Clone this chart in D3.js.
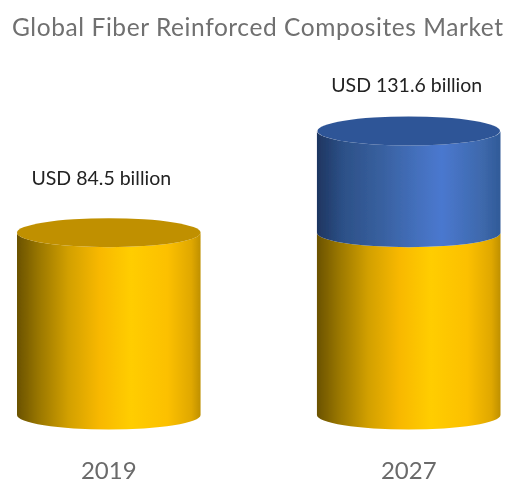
<!DOCTYPE html>
<html><head><meta charset="utf-8">
<script src="https://cdn.jsdelivr.net/npm/d3@7"></script>
<style>html,body{margin:0;padding:0;background:#fff;overflow:hidden}svg{display:block}text{font-family:Lato,"Open Sans",sans-serif}</style>
</head><body><svg id="c" width="506" height="484"></svg>
<script>
const title = "Global Fiber Reinforced Composites Market";
const years = ["2019", "2027"];
const baseValues = [84.5, 84.5];
const growthValues = [0, 47.1];
const valueLabels = ["USD 84.5 billion", "USD 131.6 billion"];
const yellowStops = [[0,"#6a5200"],[0.12,"#9a7700"],[0.28,"#d2a000"],[0.45,"#f8b800"],[0.62,"#ffcd05"],[0.82,"#fcc000"],[0.95,"#e0a800"],[1,"#bf9000"]];
const blueStops = [[0,"#1e3560"],[0.14,"#2c5087"],[0.35,"#38609f"],[0.55,"#4470bd"],[0.68,"#4a78cf"],[0.9,"#3e69ac"],[1,"#305a98"]];

const svg = d3.select("#c");
const defs = svg.append("defs");
defs.append("filter").attr("id","soft").append("feGaussianBlur").attr("stdDeviation",0.5);
function grad(id, stops){
  defs.append("linearGradient").attr("id",id).selectAll("stop").data(stops).join("stop")
    .attr("offset",d=>d[0]).attr("stop-color",d=>d[1]);
}
grad("yel",yellowStops); grad("blu",blueStops);

const x = d3.scaleBand().domain(years).range([17,500.5]).paddingInner(0.388);
const y = d3.scaleLinear().domain([0,131.6]).range([415,131]);
const ry = 14.5;

const data = years.map((yr,i)=>({yr, base:baseValues[i], growth:growthValues[i], label:valueLabels[i]}));
const g = svg.append("g").attr("filter","url(#soft)");

function body(x0,w,yTop,yBot){
  const a = w/2;
  return `M${x0},${yTop}A${a},${ry} 0 0 0 ${x0+w},${yTop}L${x0+w},${yBot}A${a},${ry} 0 0 1 ${x0},${yBot}Z`;
}
data.forEach(d=>{
  const x0=x(d.yr), w=x.bandwidth(), a=w/2, cx=x0+a;
  const top=d.base+d.growth;
  g.append("path").attr("d",body(x0,w,y(d.base),y(0))).attr("fill","url(#yel)");
  if(d.growth>0){
    g.append("path").attr("d",body(x0,w,y(top),y(d.base))).attr("fill","url(#blu)");
    g.append("ellipse").attr("cx",cx).attr("cy",y(top)).attr("rx",a-0.5).attr("ry",ry).attr("fill","#2f5597");
  } else {
    g.append("ellipse").attr("cx",cx).attr("cy",y(top)).attr("rx",a).attr("ry",ry).attr("fill","#c09000");
  }
});

const t = svg.append("g").attr("filter","url(#soft)");
t.append("text").attr("x",12).attr("y",36).attr("font-size",24.5).attr("fill","#6f6f6f")
  .attr("textLength",491).attr("lengthAdjust","spacing").text(title);
t.selectAll(".v").data(data).join("text").attr("class","v")
  .attr("x",d=>x(d.yr)+x.bandwidth()/2+(d.growth>0?-2:-7.5))
  .attr("y",d=>y(d.base+d.growth)-(d.growth>0?39:48)).attr("text-anchor","middle")
  .attr("font-size",19.5).attr("fill","#222").text(d=>d.label);
t.selectAll(".c").data(data).join("text").attr("class","c")
  .attr("x",d=>x(d.yr)+x.bandwidth()/2).attr("y",479).attr("text-anchor","middle")
  .attr("font-size",24).attr("fill","#6a6a6a").text(d=>d.yr);
</script></body></html>
